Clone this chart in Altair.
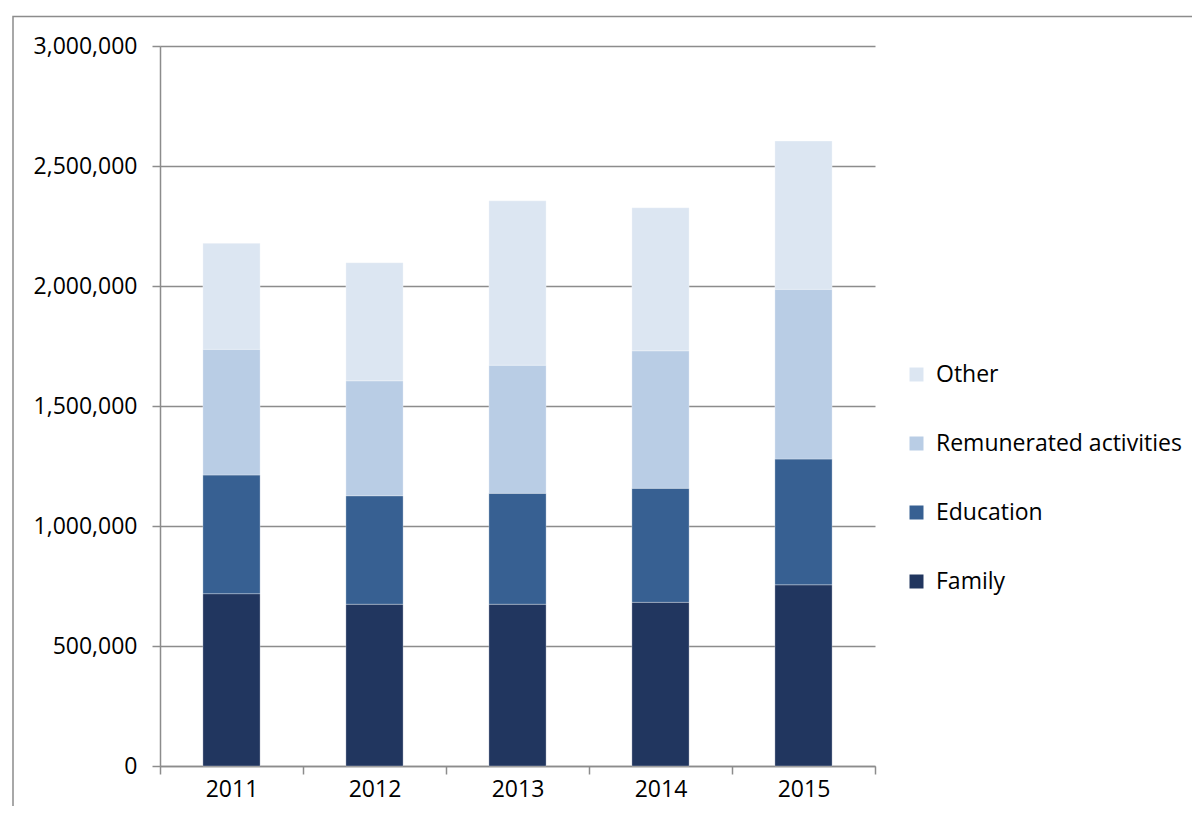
import altair as alt
import pandas as pd

years = ["2011", "2012", "2013", "2014", "2015"]
categories = ["Family", "Education", "Remunerated activities", "Other"]
family = [718000, 674000, 674000, 682000, 755000]
education = [494500, 452000, 462000, 475000, 524000]
remunerated = [523500, 479000, 534000, 573000, 707000]
other = [442000, 492000, 685000, 596000, 618000]
colors = ["#21365f", "#376092", "#b9cde5", "#dce6f2"]

series = [family, education, remunerated, other]
rows = []
for ci, (cat, vals) in enumerate(zip(categories, series)):
    for y, v in zip(years, vals):
        rows.append({"year": y, "category": cat, "value": v, "order": ci})
df = pd.DataFrame(rows)

W, H = 715, 720
FONT = "Open Sans"
FS = 23

frame = alt.Chart(pd.DataFrame({"a": [0]})).mark_rect(
    fill="white", fillOpacity=0, stroke="#8c8c8c", strokeWidth=1.5
).encode(
    x=alt.value(-147), x2=alt.value(1100), y=alt.value(-29.5), y2=alt.value(900)
)

bars = alt.Chart(df).mark_bar(
    width=alt.RelativeBandSize(0.4), stroke="white", strokeWidth=0.5, strokeOpacity=0.6
).encode(
    x=alt.X("year:N", sort=years,
            scale=alt.Scale(paddingInner=0, paddingOuter=0),
            axis=alt.Axis(title=None, labelAngle=0, tickBand="extent",
                          labelFont=FONT, labelFontSize=FS, labelColor="black",
                          labelPadding=4, domainColor="#8c8c8c", tickColor="#8c8c8c",
                          tickSize=8, domainWidth=1.5, tickWidth=1.5, grid=False)),
    y=alt.Y("value:Q", stack="zero",
            scale=alt.Scale(domain=[0, 3000000], nice=False),
            axis=alt.Axis(title=None, values=[0, 500000, 1000000, 1500000, 2000000, 2500000, 3000000],
                          format=",.0f", labelFont=FONT, labelFontSize=FS,
                          labelColor="black", labelPadding=15, domainColor="#8c8c8c",
                          tickColor="#8c8c8c", tickSize=8, domainWidth=1.5, tickWidth=1.5,
                          grid=True, gridColor="#8c8c8c", gridWidth=1.5)),
    color=alt.Color("category:N",
                    scale=alt.Scale(domain=categories[::-1], range=colors[::-1]),
                    legend=alt.Legend(title=None, orient="none", legendX=745, legendY=317,
                                      symbolType="square", symbolSize=196,
                                      symbolStrokeWidth=0, symbolOpacity=1,
                                      labelFont=FONT, labelFontSize=FS,
                                      labelColor="black", rowPadding=45, labelOffset=8,
                                      labelLimit=400)),
    order=alt.Order("order:Q", sort="ascending"),
)

chart = alt.layer(frame, bars).properties(
    width=W, height=H,
    background="white",
    autosize=alt.AutoSizeParams(type="none"),
    padding={"left": 152, "top": 38, "right": 317, "bottom": 40},
).configure_view(stroke=None, strokeWidth=0)

chart.save("out.html", embed_options={"renderer": "svg", "actions": False})
